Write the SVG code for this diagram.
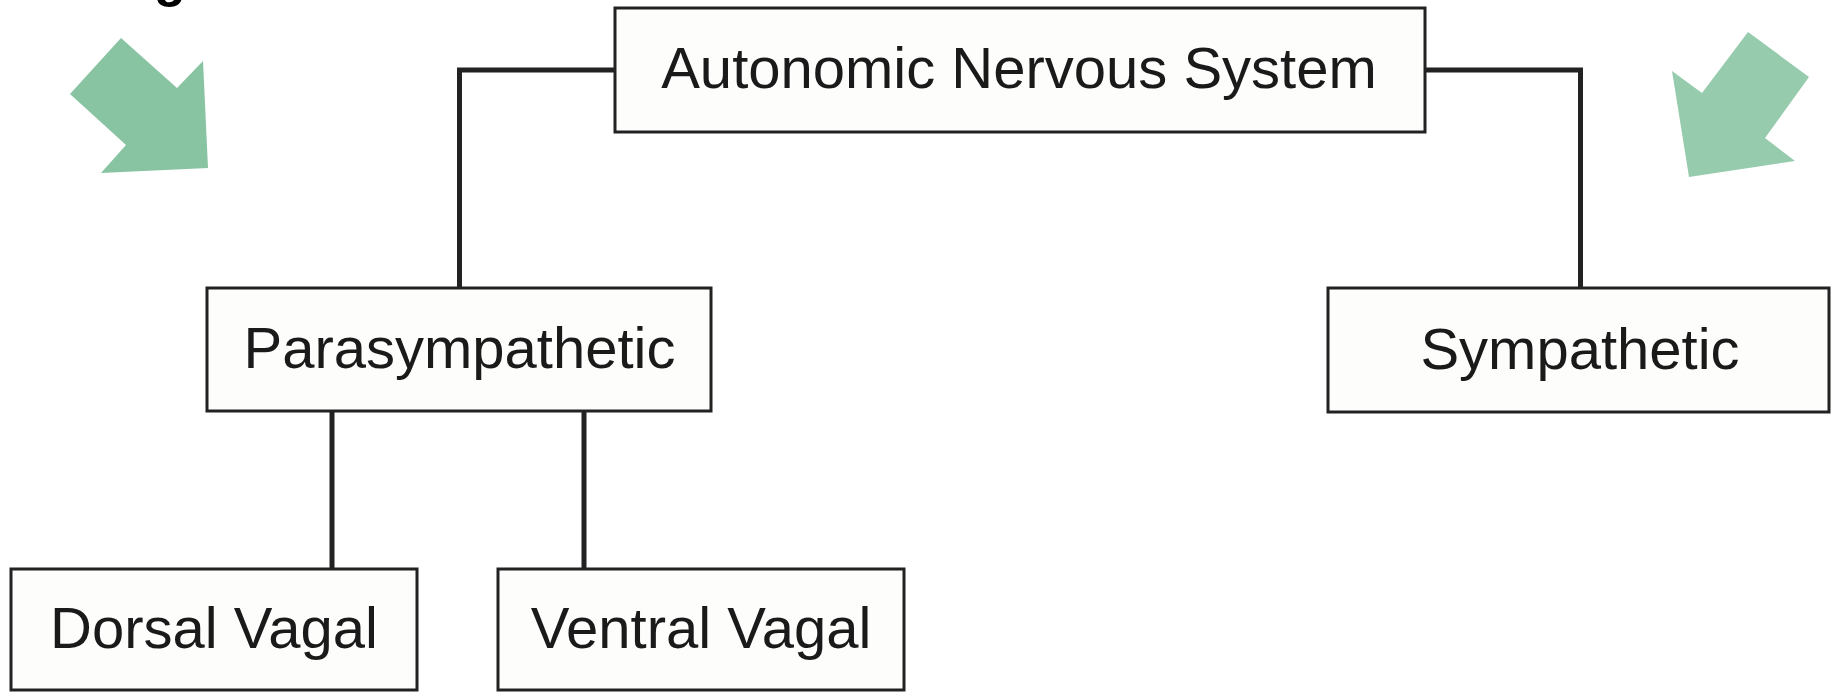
<svg xmlns="http://www.w3.org/2000/svg" width="1831" height="692" viewBox="0 0 1831 692">
<style>
.box{fill:#fdfdfc;stroke:#222;stroke-width:3}
.lbl{font-family:"Liberation Sans",Arial,sans-serif;font-size:58px;fill:#1a1a1a;text-anchor:middle}
.con{fill:none;stroke:#222;stroke-width:5}
</style>
<rect width="1831" height="692" fill="#ffffff"/>
<text x="154" y="-4" style="font-family:'Liberation Sans',Arial,sans-serif;font-size:52px;font-weight:bold;fill:#000">g</text>
<g id="arrow-left"><polygon points="121,38 177,88 203,61 208,168 101,173 126,145 70,94" fill="#88c3a2"/></g>
<g id="arrow-right"><polygon points="1748,32 1809,77 1765,138 1795,161 1689,177 1672,71 1702,93" fill="#96cbad"/></g>
<g id="connectors">
<polyline class="con" points="615,70 459.5,70 459.5,287"/>
<polyline class="con" points="1425,70 1580.5,70 1580.5,287"/>
<line class="con" x1="332" y1="411" x2="332" y2="569"/>
<line class="con" x1="584" y1="411" x2="584" y2="569"/>
</g>
<g id="ans"><rect class="box" x="615" y="8" width="810" height="124"/><text class="lbl" x="1019" y="88">Autonomic Nervous System</text></g>
<g id="para"><rect class="box" x="207" y="288" width="504" height="123"/><text class="lbl" x="459.5" y="368">Parasympathetic</text></g>
<g id="symp"><rect class="box" x="1328" y="288" width="501" height="124"/><text class="lbl" x="1580" y="369">Sympathetic</text></g>
<g id="dorsal"><rect class="box" x="11" y="569" width="406" height="121"/><text class="lbl" x="214" y="648">Dorsal Vagal</text></g>
<g id="ventral"><rect class="box" x="498" y="569" width="406" height="121"/><text class="lbl" x="701" y="648">Ventral Vagal</text></g>
</svg>
